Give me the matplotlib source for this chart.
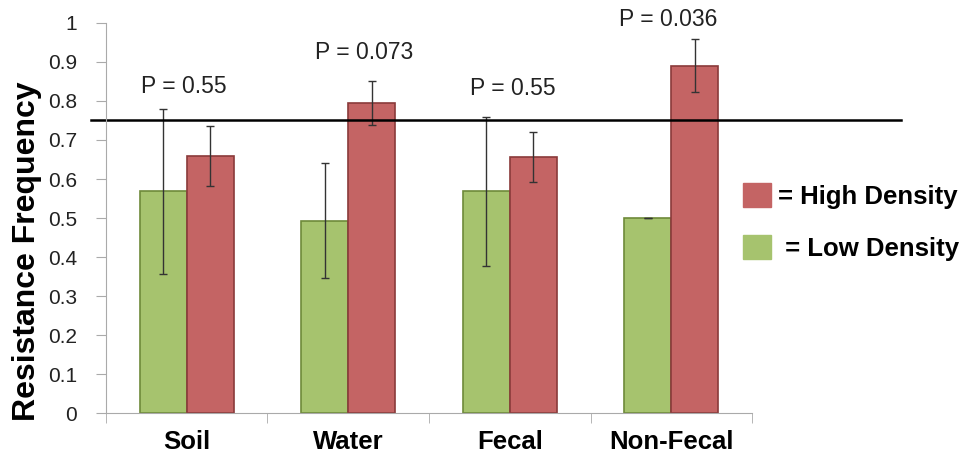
import numpy as np
import matplotlib.pyplot as plt
from matplotlib.patches import Patch

plt.rcParams['font.family'] = ['Liberation Sans', 'DejaVu Sans']

# values
categories = ['Soil', 'Water', 'Fecal', 'Non-Fecal']
low_density = [0.568, 0.493, 0.568, 0.500]
low_err = [0.212, 0.147, 0.19, 0.0]
high_density = [0.658, 0.795, 0.657, 0.890]
high_err = [0.077, 0.057, 0.064, 0.068]
p_labels = ['P = 0.55', 'P = 0.073', 'P = 0.55', 'P = 0.036']
p_y = [0.838, 0.925, 0.833, 1.01]
p_dx = [-0.02, 0.1, 0.02, -0.02]
threshold = 0.75

green = '#A6C36E'
red = '#C46464'

fig = plt.figure(figsize=(9.66, 4.59), dpi=100)
ax = fig.add_axes([0.1097, 0.1002, 0.6688, 0.8497])

x = np.arange(len(categories))
w = 0.29
ax.bar(x - w/2, low_density, w, color=green, edgecolor='#6E8A3A', linewidth=1.2,
       yerr=low_err, error_kw=dict(ecolor='#333333', elinewidth=1, capsize=3, capthick=1))
ax.bar(x + w/2, high_density, w, color=red, edgecolor='#8A3A3A', linewidth=1.2,
       yerr=high_err, error_kw=dict(ecolor='#333333', elinewidth=1, capsize=3, capthick=1))

for i in range(len(categories)):
    ax.text(x[i] + p_dx[i], p_y[i], p_labels[i], ha='center', va='center',
            fontsize=16.5, color='#222222', clip_on=False)

ax.axhline(threshold, xmin=-0.023, xmax=1.23, color='black', lw=1.8, clip_on=False)

ax.set_xlim(-0.5, 3.5)
ax.set_ylim(0, 1)
ax.set_yticks(np.arange(0, 1.01, 0.1))
ax.set_yticklabels(['0'] + ['%.1f' % v for v in np.arange(0.1, 0.95, 0.1)] + ['1'])
ax.set_xticks(x)
ax.set_xticklabels(categories, fontsize=18.5, fontweight='bold')
ax.set_xticks(np.arange(-0.5, 3.6, 1), minor=True)
ax.tick_params(axis='x', which='major', length=0, pad=12)
ax.tick_params(axis='x', which='minor', length=7, color='#AAAAAA', direction='out')
ax.tick_params(axis='y', length=7, color='#AAAAAA', labelsize=15, pad=14, labelcolor='#222222')
ax.set_ylabel('Resistance Frequency', fontsize=23, fontweight='bold')
ax.yaxis.set_label_coords(-0.099, 0.415)

for s in ['top', 'right']:
    ax.spines[s].set_visible(False)
for s in ['left', 'bottom']:
    ax.spines[s].set_color('#AAAAAA')

handles = [Patch(facecolor=red, edgecolor=red), Patch(facecolor=green, edgecolor=green)]
fig.legend(handles, ['= High Density', ' = Low Density'], loc='upper left',
           bbox_to_anchor=(0.759, 0.623), frameon=False, handlelength=1.06, handleheight=1.06,
           handletextpad=0.27, labelspacing=1.0, borderpad=0.4, borderaxespad=0,
           prop=dict(size=18.5, weight='bold'))

fig.savefig('out.png', dpi=100)
